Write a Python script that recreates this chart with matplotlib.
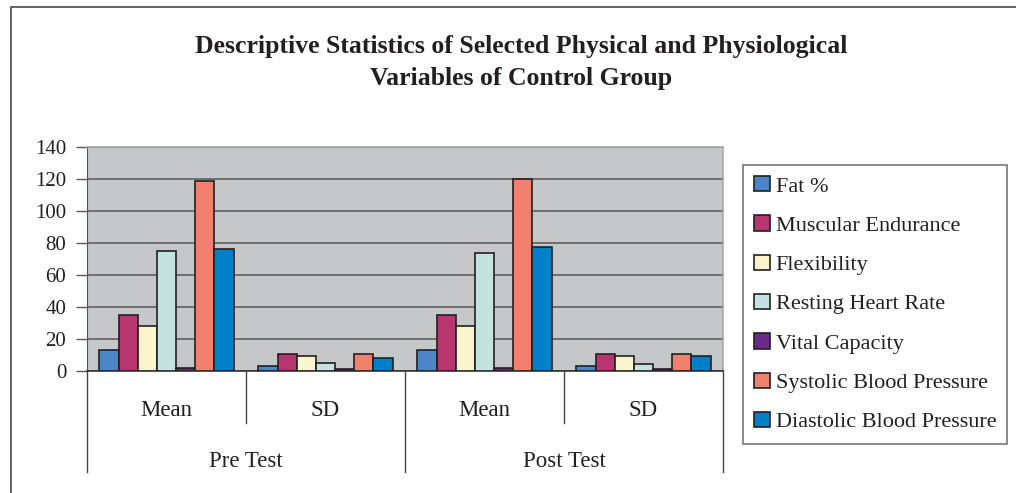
import numpy as np
import matplotlib
matplotlib.use('agg')
from matplotlib import pyplot as plt
from matplotlib.patches import Rectangle

# data
groups = ['Pre Test', 'Post Test']
stats = ['Mean', 'SD', 'Mean', 'SD']
variables = ['Fat %', 'Muscular Endurance', 'Flexibility', 'Resting Heart Rate',
             'Vital Capacity', 'Systolic Blood Pressure', 'Diastolic Blood Pressure']
fat = [13, 3.2, 13, 3.2]
muscular = [35.3, 10.4, 35.3, 10.4]
flexibility = [28.1, 9.1, 28.1, 9.1]
resting_hr = [75, 4.7, 74, 4.5]
vital = [2, 1.2, 2, 1.1]
systolic = [119, 10.4, 120, 10.4]
diastolic = [76.5, 7.9, 77.5, 9.1]
series = [fat, muscular, flexibility, resting_hr, vital, systolic, diastolic]
colors = ['#4D86C6', '#B83670', '#FAF5CD', '#C4E3E0', '#6B2A86', '#F2806F', '#0080C6']

plt.rcParams['font.family'] = ['Liberation Serif', 'DejaVu Serif']
textcol = '#231F20'

fig = plt.figure(figsize=(10.16, 4.93), dpi=100)
ax = fig.add_axes([87/1016, 1 - 371/493, (723 - 87)/1016, (371 - 147)/493])
ax.set_facecolor('#C6C7C9')

x = np.arange(len(stats))
n = len(series)
width = 0.843 / n
for i, (vals, c) in enumerate(zip(series, colors)):
    ax.bar(x - 0.843/2 + width*(i + 0.5), vals, width, color=c, edgecolor='#231F20',
           linewidth=1.2, label=variables[i], zorder=3)

ax.set_xlim(-0.5, len(stats) - 0.5)
ax.set_ylim(0, 140)
ax.set_yticks(np.arange(0, 141, 20))
ax.yaxis.grid(True, color='#6E6E70', linewidth=1.4, zorder=1)
ax.set_axisbelow(True)
ax.set_xticks([])
ax.tick_params(axis='y', direction='out', length=8, width=1, color='#555555',
               labelsize=15, labelcolor=textcol, pad=7)
for s in ['top', 'right']:
    ax.spines[s].set_color('#A8A8A8')
    ax.spines[s].set_linewidth(1.2)
ax.spines['left'].set_color('#555555')
ax.spines['bottom'].set_color('#333333')
ax.spines['bottom'].set_linewidth(1.2)

# two level category axis
trans = ax.get_xaxis_transform()
for b in np.arange(-0.5, len(stats), 1.0):
    long_line = (b + 0.5) % 2 == 0
    ax.plot([b, b], [0, -0.451 if long_line else -0.232], transform=trans,
            color='#444444', linewidth=1, clip_on=False)
for xi, s in zip(x, stats):
    ax.text(xi, -0.178, s, transform=trans, ha='center', va='center',
            fontsize=16.5, color=textcol)
for gi, g in enumerate(groups):
    ax.text(gi*2 + 0.5, -0.402, g, transform=trans, ha='center', va='center',
            fontsize=16.5, color=textcol)

fig.text(521/1016, 1 - 63/493,
         'Descriptive Statistics of Selected Physical and Physiological\nVariables of Control Group',
         ha='center', va='center', fontsize=18.5, fontweight='bold', color=textcol,
         linespacing=1.5)

leg = fig.legend(loc='upper left', bbox_to_anchor=(743/1016, 1 - 165/493),
                 fontsize=16, frameon=True, fancybox=False, borderpad=0.5,
                 labelspacing=0.85, handlelength=0.72, handleheight=0.68,
                 handletextpad=0.25, borderaxespad=0)
leg.get_frame().set_edgecolor('#555555')
leg.get_frame().set_linewidth(1.2)
for t in leg.get_texts():
    t.set_color(textcol)

# outer chart frame
fig.patches.append(Rectangle((11/1016, -0.2), 1.2, 1 - 7/493 + 0.2,
                             transform=fig.transFigure, fill=False,
                             edgecolor='#555555', linewidth=1.3))

fig.savefig('out.png', dpi=100)
